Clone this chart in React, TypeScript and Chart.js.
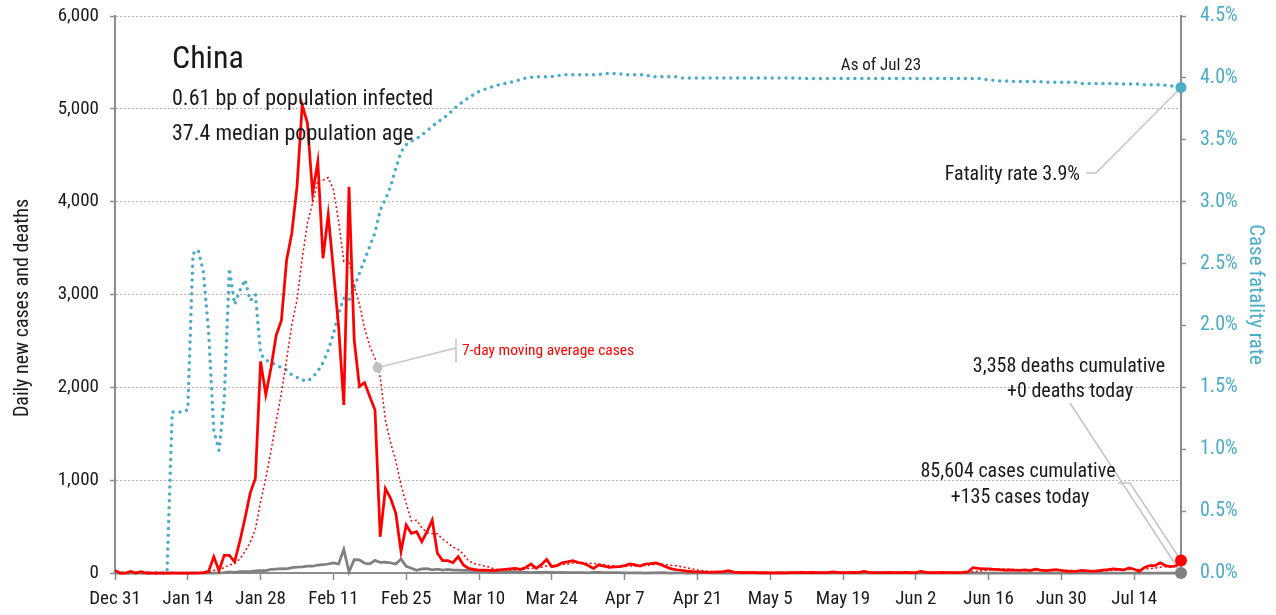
import React, { useEffect, useRef } from 'react';
import { Chart, registerables } from 'chart.js';

Chart.register(...registerables);

const FONT = "'Roboto Condensed', 'Liberation Sans Narrow', 'DejaVu Sans Condensed', sans-serif";

// X axis: one point per day, Dec 31 (index 0) .. Jul 23 (index 205); a tick every 14 days
const xTickLabels = ['Dec 31', 'Jan 14', 'Jan 28', 'Feb 11', 'Feb 25', 'Mar 10', 'Mar 24', 'Apr 7', 'Apr 21', 'May 5', 'May 19', 'Jun 2', 'Jun 16', 'Jun 30', 'Jul 14'];
const tickStepDays = 14;

const dailyCases = [
  27, 0, 0, 17, 0, 15, 0, 0, 0, 0,
  0, 0, 0, 0, 0, 0, 0, 4, 17, 175,
  25, 190, 190, 120, 340, 590, 860, 1020, 2280, 1920,
  2210, 2560, 2720, 3370, 3660, 4160, 5040, 4850, 4090, 4430,
  3390, 3860, 3265, 2655, 1810, 4160, 2510, 2010, 2050, 1900,
  1756, 390, 910, 805, 643, 230, 517, 428, 445, 337,
  445, 571, 212, 133, 133, 111, 176, 86, 50, 40,
  32, 30, 28, 25, 35, 40, 45, 50, 40, 60,
  97, 50, 90, 147, 68, 80, 111, 120, 133, 115,
  104, 80, 50, 86, 75, 61, 65, 68, 80, 97,
  88, 75, 97, 100, 108, 90, 65, 45, 35, 28,
  20, 15, 12, 10, 8, 10, 12, 14, 25, 10,
  6, 4, 5, 3, 2, 4, 2, 1, 3, 2,
  5, 4, 8, 3, 6, 4, 3, 4, 12, 7,
  5, 3, 8, 4, 16, 6, 3, 5, 4, 8,
  5, 3, 6, 4, 5, 16, 6, 4, 3, 8,
  4, 5, 3, 6, 11, 57, 49, 45, 45, 40,
  36, 32, 34, 30, 28, 33, 26, 42, 30, 25,
  30, 35, 27, 20, 17, 21, 27, 22, 18, 24,
  30, 36, 45, 40, 33, 55, 40, 18, 60, 80,
  80, 110, 80, 70, 75, 135,
];

const movingAvgCases = [
  null, null, null, null, null, null, 8, 5, 5, 5,
  2, 2, 0, 0, 0, 0, 0, 1, 3, 28,
  32, 59, 86, 103, 151, 233, 331, 473, 771, 1019,
  1317, 1634, 1939, 2297, 2674, 2943, 3389, 3766, 3984, 4229,
  4231, 4260, 4132, 3791, 3357, 3367, 3093, 2896, 2637, 2442,
  2314, 2111, 1647, 1403, 1208, 948, 750, 560, 568, 486,
  435, 425, 422, 367, 325, 277, 254, 203, 129, 104,
  90, 75, 63, 42, 34, 33, 34, 36, 38, 42,
  52, 55, 62, 76, 79, 85, 92, 95, 107, 111,
  104, 106, 102, 98, 92, 82, 74, 69, 69, 76,
  76, 76, 81, 86, 92, 94, 89, 83, 77, 67,
  56, 43, 31, 24, 18, 15, 12, 12, 13, 13,
  12, 12, 11, 10, 8, 5, 4, 3, 3, 2,
  3, 3, 4, 4, 4, 5, 5, 5, 6, 6,
  6, 5, 6, 6, 8, 7, 6, 6, 7, 7,
  7, 5, 5, 5, 5, 7, 6, 6, 6, 7,
  7, 7, 5, 5, 6, 13, 19, 25, 31, 36,
  40, 43, 40, 37, 35, 33, 31, 32, 32, 31,
  31, 32, 31, 30, 26, 25, 25, 24, 22, 21,
  23, 25, 29, 31, 32, 38, 40, 38, 42, 47,
  52, 63, 67, 71, 79, 90,
];

const dailyDeaths = [
  0, 0, 0, 0, 0, 0, 0, 0, 0, 0,
  0, 1, 0, 0, 0, 1, 0, 0, 0, 0,
  1, 3, 11, 8, 16, 15, 15, 24, 26, 26,
  38, 43, 46, 45, 57, 64, 65, 73, 73, 86,
  89, 97, 108, 97, 254, 13, 143, 142, 105, 98,
  136, 114, 118, 109, 97, 150, 71, 52, 29, 44,
  47, 35, 42, 31, 38, 31, 30, 28, 27, 23,
  17, 22, 11, 7, 14, 10, 14, 13, 11, 8,
  3, 7, 6, 9, 7, 4, 6, 5, 3, 5,
  4, 1, 7, 6, 4, 4, 3, 3, 1, 2,
  1, 1, 0, 1, 1, 3, 2, 0, 1, 0,
  0, 0, 0, 1, 0, 0, 0, 0, 0, 0,
  0, 0, 0, 0, 0, 0, 0, 0, 0, 0,
  0, 0, 0, 0, 0, 0, 0, 0, 0, 0,
  0, 0, 0, 0, 0, 0, 0, 0, 0, 0,
  0, 0, 0, 0, 0, 0, 0, 0, 0, 0,
  0, 0, 0, 0, 0, 0, 0, 0, 0, 0,
  0, 0, 0, 0, 0, 0, 0, 0, 0, 0,
  0, 0, 0, 0, 0, 0, 0, 0, 0, 0,
  0, 0, 0, 0, 0, 0, 0, 0, 0, 0,
  0, 0, 0, 0, 0, 0,
];

const fatalityRatePct = [
  0, 0, 0, 0, 0, 0, 0, 0, 0, 0,
  0, 1.30, 1.30, 1.30, 1.32, 2.58, 2.61, 2.43, 1.95, 1.15,
  0.99, 1.40, 2.46, 2.17, 2.28, 2.37, 2.20, 2.25, 1.77, 1.72,
  1.70, 1.68, 1.66, 1.64, 1.60, 1.58, 1.56, 1.55, 1.58, 1.63,
  1.70, 1.80, 1.93, 2.10, 2.22, 2.20, 2.31, 2.42, 2.53, 2.64,
  2.75, 2.93, 3.02, 3.12, 3.27, 3.40, 3.46, 3.49, 3.51, 3.54,
  3.57, 3.61, 3.64, 3.67, 3.70, 3.74, 3.78, 3.81, 3.84, 3.865,
  3.89, 3.905, 3.92, 3.935, 3.945, 3.955, 3.965, 3.975, 3.985, 4.00,
  4.005, 4.01, 4.01, 4.01, 4.01, 4.015, 4.025, 4.025, 4.025, 4.025,
  4.025, 4.025, 4.025, 4.025, 4.035, 4.035, 4.035, 4.035, 4.025, 4.025,
  4.025, 4.025, 4.025, 4.01, 4.01, 4.01, 4.01, 4.01, 4.01, 4.00,
  4.00, 4.00, 4.00, 4.00, 4.00, 4.00, 4.00, 4.00, 4.00, 4.00,
  4.00, 4.00, 4.00, 4.00, 4.00, 4.00, 4.00, 4.00, 4.00, 4.00,
  4.00, 4.00, 3.995, 3.995, 3.995, 3.995, 3.995, 3.995, 3.995, 3.995,
  3.995, 3.995, 3.995, 3.995, 3.995, 3.995, 3.995, 3.995, 3.995, 3.995,
  3.995, 3.995, 3.995, 3.995, 3.995, 3.995, 3.995, 3.995, 3.995, 3.995,
  3.995, 3.995, 3.995, 3.995, 3.995, 3.995, 3.995, 3.99, 3.985, 3.98,
  3.975, 3.975, 3.975, 3.97, 3.97, 3.97, 3.97, 3.97, 3.97, 3.965,
  3.965, 3.965, 3.965, 3.965, 3.965, 3.965, 3.955, 3.955, 3.955, 3.955,
  3.955, 3.955, 3.955, 3.95, 3.95, 3.95, 3.95, 3.95, 3.945, 3.945,
  3.945, 3.945, 3.94, 3.935, 3.93, 3.923,
];

const RED = '#ff0000';
const GRAY = '#808080';
const TEAL = '#4bacc6';
const AXIS = '#8c8c8c';
const TEXT = '#1a1a1a';
const LEADER = '#c4c4c4';

const toPoints = (arr: (number | null)[]) => arr.map((v, i) => ({ x: i, y: v }));

const text = (ctx: CanvasRenderingContext2D, s: string, x: number, y: number, size: number, color: string, align: CanvasTextAlign = 'left') => {
  ctx.font = `${size}px ${FONT}`;
  ctx.fillStyle = color;
  ctx.textAlign = align;
  ctx.textBaseline = 'alphabetic';
  ctx.fillText(s, x, y);
};

const maCalloutIndex = 50.5;

const annotationPlugin = {
  id: 'chinaAnnotations',
  beforeDatasetsDraw(chart: any) {
    const { ctx, scales } = chart;
    const xs = scales.x, yl = scales.y, yr = scales.y1;
    const last = dailyCases.length - 1;
    const ex = xs.getPixelForValue(last);
    const poly = (pts: number[][]) => {
      ctx.beginPath();
      ctx.moveTo(pts[0][0], pts[0][1]);
      for (let i = 1; i < pts.length; i++) ctx.lineTo(pts[i][0], pts[i][1]);
      ctx.stroke();
    };
    ctx.save();
    ctx.strokeStyle = LEADER;
    ctx.lineWidth = 1.5;
    poly([[1086, 173], [1096, 173], [ex, yr.getPixelForValue(fatalityRatePct[last])]]);
    poly([[1070, 403], [ex, yl.getPixelForValue(dailyDeaths[last])]]);
    poly([[1118, 483], [1130, 483], [ex, yl.getPixelForValue(dailyCases[last])]]);
    const i0 = Math.floor(maCalloutIndex);
    const mx = xs.getPixelForValue(maCalloutIndex);
    const my = yl.getPixelForValue(((movingAvgCases[i0] as number) + (movingAvgCases[i0 + 1] as number)) / 2);
    poly([[456, 348], [mx, my]]);
    poly([[456, 339], [456, 362]]);
    ctx.restore();
  },
  afterDatasetsDraw(chart: any) {
    const { ctx, scales } = chart;
    const xs = scales.x, yl = scales.y;
    ctx.save();
    const i0 = Math.floor(maCalloutIndex);
    const mx = xs.getPixelForValue(maCalloutIndex);
    const my = yl.getPixelForValue(((movingAvgCases[i0] as number) + (movingAvgCases[i0 + 1] as number)) / 2);
    ctx.fillStyle = '#c0c0c0';
    ctx.beginPath();
    ctx.arc(mx, my, 5, 0, Math.PI * 2);
    ctx.fill();

    // left axis title, centred on the full figure height
    ctx.save();
    ctx.translate(21, 308);
    ctx.rotate(-Math.PI / 2);
    text(ctx, 'Daily new cases and deaths', 0, 7, 20, TEXT, 'center');
    ctx.restore();

    text(ctx, 'China', 172, 68, 32, TEXT);
    text(ctx, '0.61 bp of population infected', 172, 105, 22, TEXT);
    text(ctx, '37.4 median population age', 172, 140, 22, TEXT);
    text(ctx, 'As of Jul 23', 881, 70, 17, TEXT, 'center');
    text(ctx, 'Fatality rate 3.9%', 1080, 180, 20, TEXT, 'right');
    text(ctx, '7-day moving average cases', 462, 355, 15.5, RED);
    text(ctx, '3,358 deaths cumulative', 1069, 372, 20, TEXT, 'center');
    text(ctx, '+0 deaths today', 1070, 397, 20, TEXT, 'center');
    text(ctx, '85,604 cases cumulative', 1018, 477, 20, TEXT, 'center');
    text(ctx, '+135 cases today', 1020, 503, 20, TEXT, 'center');
    ctx.restore();
  },
};

export default function App() {
  const ref = useRef<HTMLCanvasElement>(null);
  useEffect(() => {
    if (!ref.current) return;
    const last = dailyCases.length - 1;
    const endOnly = (r: number) => (c: any) => (c.dataIndex === last ? r : 0);
    Chart.defaults.font.family = FONT;
    const chart = new Chart(ref.current, {
      type: 'line',
      data: {
        datasets: [
          {
            label: 'Daily new cases',
            data: toPoints(dailyCases),
            borderColor: RED,
            backgroundColor: RED,
            borderWidth: 2.75,
            pointRadius: endOnly(6),
            pointBackgroundColor: RED,
            pointBorderWidth: 0,
            yAxisID: 'y',
            clip: false,
          },
          {
            label: '7-day moving average cases',
            data: toPoints(movingAvgCases),
            borderColor: RED,
            borderWidth: 1.5,
            borderDash: [2, 2.5],
            pointRadius: 0,
            yAxisID: 'y',
            clip: false,
          },
          {
            label: 'Daily new deaths',
            data: toPoints(dailyDeaths),
            borderColor: GRAY,
            backgroundColor: GRAY,
            borderWidth: 2.75,
            pointRadius: endOnly(6),
            pointBackgroundColor: GRAY,
            pointBorderWidth: 0,
            yAxisID: 'y',
            clip: false,
          },
          {
            label: 'Case fatality rate',
            data: toPoints(fatalityRatePct),
            borderColor: TEAL,
            backgroundColor: TEAL,
            borderWidth: 3.5,
            borderDash: [0, 6.9],
            borderCapStyle: 'round',
            pointRadius: endOnly(5.5),
            pointBackgroundColor: TEAL,
            pointBorderWidth: 0,
            yAxisID: 'y1',
            clip: false,
          },
        ],
      } as any,
      options: {
        animation: false,
        responsive: false,
        devicePixelRatio: 1,
        events: [],
        layout: { padding: { top: 16, left: 0, right: 0, bottom: 0 } },
        plugins: { legend: { display: false }, tooltip: { enabled: false } },
        scales: {
          x: {
            type: 'linear',
            min: 0,
            max: dailyCases.length - 1,
            afterFit: (s: any) => { s.height = 42; },
            grid: { display: true, drawOnChartArea: false, drawTicks: true, tickLength: 7, tickColor: AXIS, tickWidth: 1.5 },
            border: { display: true, color: AXIS, width: 2 },
            ticks: {
              stepSize: tickStepDays,
              includeBounds: false,
              autoSkip: false,
              maxRotation: 0,
              padding: 8,
              color: TEXT,
              font: { size: 19 },
              callback: (v: any) => xTickLabels[Math.round(Number(v) / tickStepDays)] ?? '',
            },
          },
          y: {
            position: 'left',
            min: 0,
            max: 6000,
            afterFit: (s: any) => { s.width = 115; s.paddingTop = 0; s.paddingBottom = 0; },
            grid: {
              color: (c: any) => (c.tick && c.tick.value === 0 ? 'rgba(0,0,0,0)' : '#b4b4b4'),
              lineWidth: 1,
              tickLength: 5,
              tickColor: AXIS,
              tickWidth: 1.5,
            },
            border: { color: AXIS, width: 2, dash: [2, 2] },
            ticks: {
              stepSize: 1000,
              padding: 11,
              color: TEXT,
              font: { size: 19 },
              callback: (v: any) => Number(v).toLocaleString('en-US'),
            },
            title: { display: false },
          },
          y1: {
            position: 'right',
            min: 0,
            max: 4.5,
            afterFit: (s: any) => { s.width = 95; s.paddingTop = 0; s.paddingBottom = 0; },
            grid: { drawOnChartArea: false, tickLength: 5, tickColor: AXIS, tickWidth: 1.5 },
            border: { color: AXIS, width: 2 },
            ticks: {
              stepSize: 0.5,
              padding: 14,
              color: TEAL,
              font: { size: 20 },
              callback: (v: any) => Number(v).toFixed(1) + '%',
            },
            title: { display: true, text: 'Case fatality rate', color: TEAL, font: { size: 21 }, padding: { top: 8, bottom: 0 } },
          },
        },
      } as any,
      plugins: [annotationPlugin],
    });
    return () => chart.destroy();
  }, []);

  return (
    <div style={{ position: 'fixed', left: 0, top: 0, width: 1276, height: 615, background: '#fff' }}>
      <canvas ref={ref} width={1276} height={615} style={{ display: 'block' }} />
    </div>
  );
}
